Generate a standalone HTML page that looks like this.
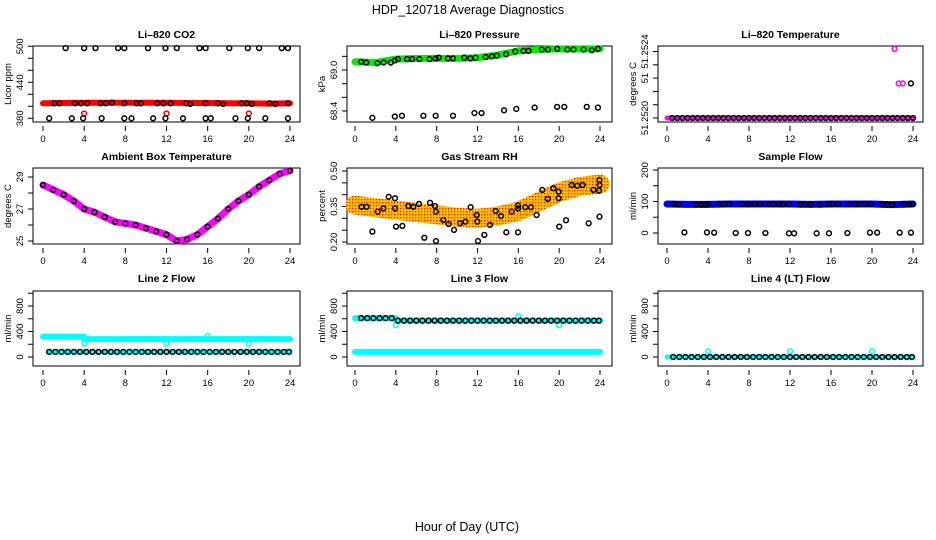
<!DOCTYPE html>
<html><head><meta charset="utf-8"><style>
html,body{margin:0;padding:0;background:#fff}
svg{display:block;font-family:"Liberation Sans",sans-serif}
</style></head><body>
<svg id="c" width="936" height="540" viewBox="0 0 936 540">
<defs>
<pattern id="rhpat" width="3" height="3" patternUnits="userSpaceOnUse">
<rect width="3" height="3" fill="#ffc000"/><rect x="1" y="1" width="1.3" height="1.3" fill="#e02000"/>
</pattern>
</defs>
<text x="468" y="14" text-anchor="middle" font-size="12.5">HDP_120718  Average Diagnostics</text>
<text x="467" y="531" text-anchor="middle" font-size="12.5">Hour of Day (UTC)</text>
</svg>
<script>
// ---- data ----
const xTicks=[0,4,8,12,16,20,24];
// CO2
const co2BandH=[0,2,4,6,8,10,12,14,16,18,20,22,24];
const co2BandV=[405,405.5,406,406,406,406,406,405.5,405.5,405,405,404.5,405];
const co2H=[1.1,1.6,3.1,3.7,4.3,5.6,6.1,6.7,7.9,9.1,9.5,11.1,11.7,12.4,13.9,14.3,15.8,17.0,17.5,19.3,19.8,20.3,22.0,22.6,23.8];
const co2V=[405,405,405,405,405,405,405,406,405,405,405,405,405,405,405,404,405,405,404,405,405,404,405,404,405];
const co2HiH=[2.2,4,5.1,7.3,7.9,10.2,11.9,13,15.2,15.8,18.1,19.9,21,23.2,23.8];
const co2HiV=[497,497,497,497,497,497,497,497,497,497,497,497,497,497,497];
const co2LoH=[0.6,2.8,3.9,5.7,7.9,8.6,10.7,11.9,13.6,15.8,16.3,18.7,19.9,21.6,23.8];
const co2LoV=[380,380,380,380,380,380,380,380,380,380,380,380,380,380,380];
const co2RedH=[4,12,20];
const co2RedV=[388,388,388];
// Pressure
const prBandH=[0,2,4,6,8,10,12,14,16,18,20,22,24];
const prBandV=[69.12,69.11,69.16,69.17,69.17,69.17,69.18,69.22,69.28,69.30,69.31,69.31,69.31];
const prH=[0.6,1.1,2.2,2.8,3.5,3.9,4.2,5.1,5.6,6.3,7.3,7.9,8.2,9.1,9.6,10.7,11.3,11.8,12.8,13.4,13.9,14.8,15.7,16.5,17.0,18.3,18.9,19.8,20.8,21.4,22.4,23.2,23.8];
const prV=[69.12,69.11,69.10,69.11,69.11,69.14,69.16,69.16,69.16,69.16,69.16,69.17,69.18,69.17,69.17,69.18,69.17,69.18,69.19,69.20,69.21,69.23,69.27,69.28,69.28,69.30,69.30,69.31,69.30,69.30,69.30,69.29,69.31];
const prOutH=[1.7,3.9,4.6,6.7,7.9,9.6,11.7,12.4,14.6,15.8,17.6,19.8,20.5,22.7,23.8];
const prOutV=[68.30,68.32,68.33,68.33,68.33,68.33,68.37,68.37,68.41,68.43,68.45,68.46,68.46,68.46,68.45];
// Li-820 temperature (units of 0.0001 above 51.2520)
const tmpLabels=["51.2520","51","51.2524"];
const tmpLabelAt=[0,3,5];
const tmpTicks=[0,1,2,3,4,5];
const tmpBandH=[0,24];
const tmpBandV=[0,0];
const tmpH=[0.5,1,1.5,2,2.5,3,3.5,4,4.5,5,5.5,6,6.5,7,7.5,8,8.5,9,9.5,10,10.5,11,11.5,12,12.5,13,13.5,14,14.5,15,15.5,16,16.5,17,17.5,18,18.5,19,19.5,20,20.5,21,21.5,22,22.5,23,23.5,24];
const tmpMagH=[22.2,22.6,23.0];
const tmpMagV=[5.2,2.6,2.6];
const tmpBlkH=[23.8];
const tmpBlkV=[2.6];
// Ambient box temperature
const ambH=[0,1,2,3,4,5,6,7,8,9,10,11,12,13,14,15,16,17,18,19,20,21,22,23,24];
const ambV=[28.5,28.2,27.9,27.5,27.0,26.8,26.5,26.2,26.1,26.0,25.8,25.6,25.4,25.0,25.1,25.4,25.9,26.4,27.0,27.5,27.9,28.4,28.8,29.2,29.4];
// Gas stream RH
const rhBandH=[0,2,4,6,8,10,12,14,16,18,20,22,24];
const rhBandV=[0.356,0.345,0.335,0.325,0.315,0.305,0.30,0.31,0.33,0.37,0.41,0.435,0.445];
const rhH=[0.65,1.14,2.22,2.78,3.30,3.92,3.92,4.02,4.64,1.70,5.22,5.71,6.27,6.79,7.35,7.84,7.93,7.93,8.65,9.17,9.70,10.29,10.81,11.33,11.92,11.98,12.05,12.67,13.22,13.78,14.30,14.82,15.35,15.97,15.97,15.97,16.68,17.24,17.80,18.35,18.88,19.43,19.95,19.95,20.01,20.67,21.23,21.78,22.30,22.89,23.35,23.90,23.95,23.95,23.95];
const rhV=[0.349,0.349,0.328,0.342,0.391,0.385,0.342,0.265,0.268,0.244,0.352,0.349,0.361,0.218,0.366,0.352,0.328,0.204,0.293,0.276,0.251,0.279,0.286,0.347,0.314,0.286,0.204,0.230,0.272,0.331,0.310,0.241,0.328,0.354,0.342,0.241,0.347,0.347,0.314,0.420,0.382,0.427,0.413,0.385,0.265,0.292,0.441,0.438,0.441,0.279,0.420,0.417,0.307,0.462,0.441];
// Sample flow
const sfBandH=[0,2,4,6,8,10,12,14,16,18,20,22,24];
const sfBandV=[92,91,91,92,92,92,92,91,92,92,92,90,92];
const sfH=[0.6,1.1,2.8,3.3,3.7,4.0,5.1,5.6,6.1,7.3,7.9,8.5,9.1,9.9,10.4,10.9,11.3,11.9,13.0,13.5,14.0,14.9,15.7,16.1,16.7,17.8,18.4,18.8,19.3,19.9,21.0,21.5,22.0,23.1,23.6,23.9];
const sfV=[92,91,90,90,90,91,92,92,92,91,91,92,92,91,91,91,91,92,90,91,91,90,91,92,92,91,91,92,92,92,91,91,90,91,91,92];
const sfOutH=[1.7,3.9,4.6,6.7,7.9,9.6,11.9,12.4,14.6,15.8,17.6,19.8,20.5,22.7,23.8];
const sfOutV=[2,2,1,0,0,0,-1,-1,-1,-1,0,1,1,1,1];
// Flow panels
const flowTicks=[0,200,400,600,800,1000];
const flowLabels=["0","","400","","800",""];
const l2BandH=[0,4,4,24];
const l2BandV=[320,320,280,280];
const l2LowH=[0.5,24];
const l2LowV=[80,80];
const l2CyanH=[4,12,20,16];
const l2CyanV=[210,210,210,330];
const stepH=[0.6,1.2,1.8,2.4,3.0,3.6,4.2,4.8,5.4,6.0,6.6,7.2,7.8,8.4,9.0,9.6,10.2,10.8,11.4,12.0,12.6,13.2,13.8,14.4,15.0,15.6,16.2,16.8,17.4,18.0,18.6,19.2,19.8,20.4,21.0,21.6,22.2,22.8,23.4,23.9];
const l2BlkV=[80,80,80,80,80,80,80,80,80,80,80,80,80,80,80,80,80,80,80,80,80,80,80,80,80,80,80,80,80,80,80,80,80,80,80,80,80,80,80,80];
const l3BandH=[0,4,4,24];
const l3BandV=[610,610,570,570];
const l3LowH=[0,24];
const l3LowV=[80,80];
const l3BlkV=[610,610,610,610,610,610,570,570,570,570,570,570,570,570,570,570,570,570,570,570,570,570,570,570,570,570,570,570,570,570,570,570,570,570,570,570,570,570,570,570];
const l3CyanH=[4,20,16];
const l3CyanV=[500,500,640];
const l4BandH=[0,24];
const l4BandV=[0,0];
const l4BlkV=[0,0,0,0,0,0,0,0,0,0,0,0,0,0,0,0,0,0,0,0,0,0,0,0,0,0,0,0,0,0,0,0,0,0,0,0,0,0,0,0];
const l4CyanH=[4,12,20];
const l4CyanV=[90,90,90];

// ---- drawing ----
const NS="http://www.w3.org/2000/svg";
const svg=document.getElementById('c');
function mk(tag,attrs,parent){const e=document.createElementNS(NS,tag);for(const k in attrs)e.setAttribute(k,attrs[k]);(parent||svg).appendChild(e);return e;}
const cols=[{bl:33,br:300,x0:43,x1:290},{bl:347,br:612,x0:355,x1:600},{bl:658,br:923,x0:667,x1:913}];
const rows=[{bt:46,bb:122,ty:38},{bt:168,bb:244,ty:160},{bt:291,bb:366,ty:282}];

function panel(name,title,ci,ri,ylab,ylo,yhi,vlo,vhi,yTicks,yLabels){
  const c=cols[ci],r=rows[ri];
  const g=mk('g',{});
  
  
  const sx=h=>c.x0+(h-xTicks[0])/(xTicks[xTicks.length-1]-xTicks[0])*(c.x1-c.x0);
  const sy=v=>ylo+(v-vlo)/(vhi-vlo)*(yhi-ylo);
  const t=mk('text',{x:(c.bl+c.br)/2,y:r.ty,'text-anchor':'middle','font-size':10.5,'font-weight':'bold'},g);
  t.textContent=title;
  
  
  const b=mk('rect',{x:c.bl,y:r.bt,width:c.br-c.bl,height:r.bb-r.bt,fill:'none',stroke:'#000','stroke-width':1},g);
  
  
  const xa=mk('g',{},g);
  
  
  xTicks.forEach(v=>{
    mk('line',{x1:sx(v),x2:sx(v),y1:r.bb+4,y2:r.bb+9,stroke:'#000'},xa);
    const l=mk('text',{x:sx(v),y:r.bb+20,'text-anchor':'middle','font-size':9.5},xa);
    l.textContent=String(v);
    
    
  });
  const ya=mk('g',{},g);
  
  
  yTicks.forEach((v,i)=>{
    const p=sy(v); if(p<r.bt-3||p>r.bb+12) return;
    mk('line',{x1:c.bl,x2:c.bl-5,y1:p,y2:p,stroke:'#000'},ya);
    if(yLabels[i]){
      const l=mk('text',{x:c.bl-10,y:p,'text-anchor':'middle','font-size':9.5,transform:`rotate(-90 ${c.bl-10} ${p})`},ya);
      l.textContent=yLabels[i];
      
      
    }
  });
  const yl=mk('text',{x:c.bl-22,y:(r.bt+r.bb)/2,'text-anchor':'middle','font-size':9.5,transform:`rotate(-90 ${c.bl-22} ${(r.bt+r.bb)/2})`},g);
  yl.textContent=ylab;
  
  
  return {g,sx,sy};
}
function band(P,H,V,color,w,name){
  const pts=H.map((h,i)=>P.sx(h)+','+P.sy(V[i])).join(' ');
  const e=mk('polyline',{points:pts,fill:'none',stroke:color,'stroke-width':w,'stroke-linecap':'round','stroke-linejoin':'round'},P.g);
  
  
}
function pts(P,H,V,color,name){
  H.forEach((h,i)=>{
    const e=mk('circle',{cx:P.sx(h),cy:P.sy(V[i]),r:2.4,fill:'none',stroke:color,'stroke-width':1.5},P.g);
    
    
  });
}

let P;
P=panel('co2-panel','Li\u2013820 CO2',0,0,'Licor ppm',118.3,46.3,380,500,[380,400,420,440,460,480,500],['380','','','440','','','500']);
band(P,co2BandH,co2BandV,'#ff0000',6,'co2-band');
pts(P,co2RedH,co2RedV,'#ff0000','co2-red-point');
pts(P,co2H,co2V,'#000','co2-point');
pts(P,co2HiH,co2HiV,'#000','co2-high-point');
pts(P,co2LoH,co2LoV,'#000','co2-low-point');

P=panel('pressure-panel','Li\u2013820 Pressure',1,0,'kPa',70,111,69.0,68.4,[68.4,68.6,68.8,69.0,69.2,69.4],['68.4','','','69.0','','']);
band(P,prBandH,prBandV,'#00ee00',7,'pressure-band');
pts(P,prH,prV,'#000','pressure-point');
pts(P,prOutH,prOutV,'#000','pressure-outlier');

P=panel('li820-temp-panel','Li\u2013820 Temperature',2,0,'degrees C',118,51.5,0,5,tmpTicks,tmpTicks.map(v=>{const k=tmpLabelAt.indexOf(v);return k>=0?tmpLabels[k]:'';}));
band(P,tmpBandH,tmpBandV,'#ff00ff',5,'temp-band');
pts(P,tmpH,tmpH.map(()=>0),'#000','temp-point');
pts(P,tmpMagH,tmpMagV,'#ff00ff','temp-magenta-point');
pts(P,tmpBlkH,tmpBlkV,'#000','temp-outlier');

P=panel('ambient-panel','Ambient Box Temperature',0,1,'degrees C',177,241,29,25,[25,26,27,28,29],['25','','27','','29']);
band(P,ambH,ambV,'#ff00ff',7,'ambient-band');
pts(P,ambH,ambV,'#000','ambient-point');

P=panel('rh-panel','Gas Stream RH',1,1,'percent',171,242,0.50,0.20,[0.20,0.25,0.30,0.35,0.40,0.45,0.50],['0.20','','','0.35','','','0.50']);
band(P,rhBandH,rhBandV,'url(#rhpat)',19,'rh-band');
pts(P,rhH,rhV,'#000','rh-point');

P=panel('sample-flow-panel','Sample Flow',2,1,'ml/min',233,170,0,200,[0,50,100,150,200],['0','','100','','200']);
band(P,sfBandH,sfBandV,'#0000ff',7,'sample-flow-band');
pts(P,sfH,sfV,'#000','sample-flow-point');
pts(P,sfOutH,sfOutV,'#000','sample-flow-outlier');

P=panel('line2-panel','Line 2 Flow',0,2,'ml/min',357,306,0,800,flowTicks,flowLabels);
band(P,l2BandH,l2BandV,'#00ffff',6,'line2-high-band');
band(P,l2LowH,l2LowV,'#00ffff',5,'line2-low-band');
pts(P,l2CyanH,l2CyanV,'#00ffff','line2-cyan-point');
pts(P,stepH,l2BlkV,'#000','line2-point');

P=panel('line3-panel','Line 3 Flow',1,2,'ml/min',357,306,0,800,flowTicks,flowLabels);
band(P,l3BandH,l3BandV,'#00ffff',6,'line3-high-band');
band(P,l3LowH,l3LowV,'#00ffff',6,'line3-low-band');
pts(P,l3CyanH,l3CyanV,'#00ffff','line3-cyan-point');
pts(P,stepH,l3BlkV,'#000','line3-point');

P=panel('line4-panel','Line 4 (LT) Flow',2,2,'ml/min',357,306,0,800,flowTicks,flowLabels);
band(P,l4BandH,l4BandV,'#00ffff',5,'line4-band');
pts(P,l4CyanH,l4CyanV,'#00ffff','line4-cyan-point');
pts(P,stepH,l4BlkV,'#000','line4-point');
</script>
</body></html>
